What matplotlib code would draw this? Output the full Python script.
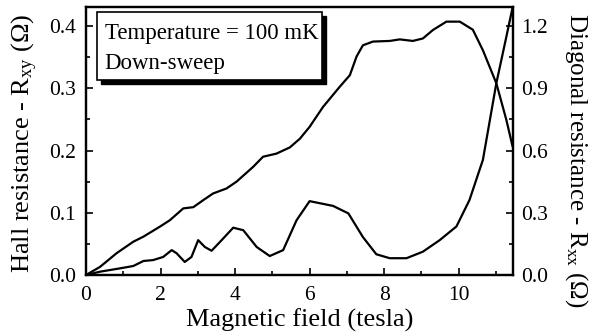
import matplotlib
matplotlib.use("Agg")
import matplotlib.pyplot as plt
from matplotlib.patches import Rectangle
from matplotlib.ticker import MultipleLocator

plt.rcParams['font.family'] = ['Liberation Serif', 'DejaVu Serif']
plt.rcParams['mathtext.fontset'] = 'custom'
plt.rcParams['mathtext.rm'] = 'Liberation Serif'
plt.rcParams['mathtext.it'] = 'Liberation Serif'

# Hall resistance Rxy (left axis, ohm)
b_xy = [0.0, 0.375, 0.82, 1.27, 1.54, 1.98, 2.25, 2.61, 2.88, 3.14, 3.41, 3.77, 4.04,
        4.49, 4.75, 5.11, 5.47, 5.74, 6.0, 6.36, 6.81, 7.08, 7.26, 7.43, 7.70, 8.15,
        8.42, 8.77, 9.04, 9.31, 9.67, 10.03, 10.38, 10.65, 11.01, 11.28, 11.44]
r_xy = [0.0, 0.013, 0.035, 0.0535, 0.0616, 0.0776, 0.088, 0.107, 0.109, 0.12, 0.131,
        0.139, 0.150, 0.174, 0.190, 0.195, 0.205, 0.219, 0.238, 0.270, 0.3025, 0.321,
        0.351, 0.369, 0.375, 0.376, 0.3785, 0.376, 0.380, 0.3936, 0.407, 0.407, 0.394,
        0.361, 0.308, 0.249, 0.208]

# Diagonal resistance Rxx (right axis, ohm)
b_xx = [0.0, 0.375, 0.91, 1.27, 1.54, 1.80, 2.07, 2.30, 2.43, 2.65, 2.83, 3.01, 3.19,
        3.37, 3.64, 3.95, 4.22, 4.58, 4.93, 5.29, 5.65, 6.0, 6.63, 7.04, 7.43, 7.79,
        8.15, 8.6, 9.04, 9.49, 9.94, 10.29, 10.65, 11.01, 11.28, 11.44]
r_xx = [0.0, 0.016, 0.032, 0.0435, 0.0675, 0.072, 0.087, 0.120, 0.105, 0.063, 0.087,
        0.168, 0.135, 0.117, 0.168, 0.228, 0.216, 0.135, 0.0915, 0.120, 0.264, 0.356,
        0.333, 0.297, 0.183, 0.100, 0.081, 0.081, 0.1125, 0.168, 0.234, 0.3615, 0.555,
        0.924, 1.149, 1.284]

xlim = (0, 11.45)
ylim_left = (0, 0.4305)
ylim_right = (0, 1.2915)

W, H = 589, 334
fig = plt.figure(figsize=(5.89, 3.34), dpi=100)
ax = fig.add_axes([0.146, 0.1766, 0.7245, 0.8024])
ax2 = ax.twinx()

ax.plot(b_xy, r_xy, color='black', lw=1.6)
ax2.plot(b_xx, r_xx, color='black', lw=1.6)

ax.set_xlim(*xlim)
ax.set_ylim(*ylim_left)
ax2.set_ylim(*ylim_right)

ax.xaxis.set_major_locator(MultipleLocator(2))
ax.xaxis.set_minor_locator(MultipleLocator(1))
ax.yaxis.set_major_locator(MultipleLocator(0.1))
ax.yaxis.set_minor_locator(MultipleLocator(0.05))
ax2.yaxis.set_major_locator(MultipleLocator(0.3))
ax2.yaxis.set_minor_locator(MultipleLocator(0.15))
ax.yaxis.set_major_formatter(plt.FormatStrFormatter('%.1f'))
ax2.yaxis.set_major_formatter(plt.FormatStrFormatter('%.1f'))

for a in (ax, ax2):
    a.tick_params(which='both', direction='in', labelsize=15.5, width=1.2)
    a.tick_params(which='major', length=5)
    a.tick_params(which='minor', length=3)
    for s in a.spines.values():
        s.set_linewidth(1.6)
ax.tick_params(axis='x', pad=8)
ax.tick_params(axis='y', pad=7)
ax2.tick_params(axis='y', pad=6)

fig.text(300 / W, 1 - 320 / H, 'Magnetic field (tesla)', fontsize=19,
         ha='center', va='center')
fig.text(25 / W, 1 - 143 / H, r'Hall resistance - R$_{\rm xy}$ ($\Omega$)',
         fontsize=19, rotation=90, ha='center', va='center', rotation_mode='anchor')
fig.text(576 / W, 1 - 160 / H, r'Diagonal resistance - R$_{\rm xx}$ ($\Omega$)',
         fontsize=18, rotation=270, ha='center', va='center', rotation_mode='anchor')

# legend-like box with shadow
shadow = Rectangle((0.035, 0.713), 0.528, 0.253, transform=ax.transAxes,
                   facecolor='black', edgecolor='black', zorder=4)
box = Rectangle((0.026, 0.728), 0.527, 0.253, transform=ax.transAxes,
                facecolor='white', edgecolor='black', lw=1.2, zorder=5)
ax.add_patch(shadow)
ax.add_patch(box)
ax.text(0.044, 0.903, 'Temperature = 100 mK', transform=ax.transAxes,
        fontsize=16.5, va='center', ha='left', zorder=6)
ax.text(0.044, 0.79, 'Down-sweep', transform=ax.transAxes,
        fontsize=16.5, va='center', ha='left', zorder=6)

fig.savefig('out.png', dpi=100)
